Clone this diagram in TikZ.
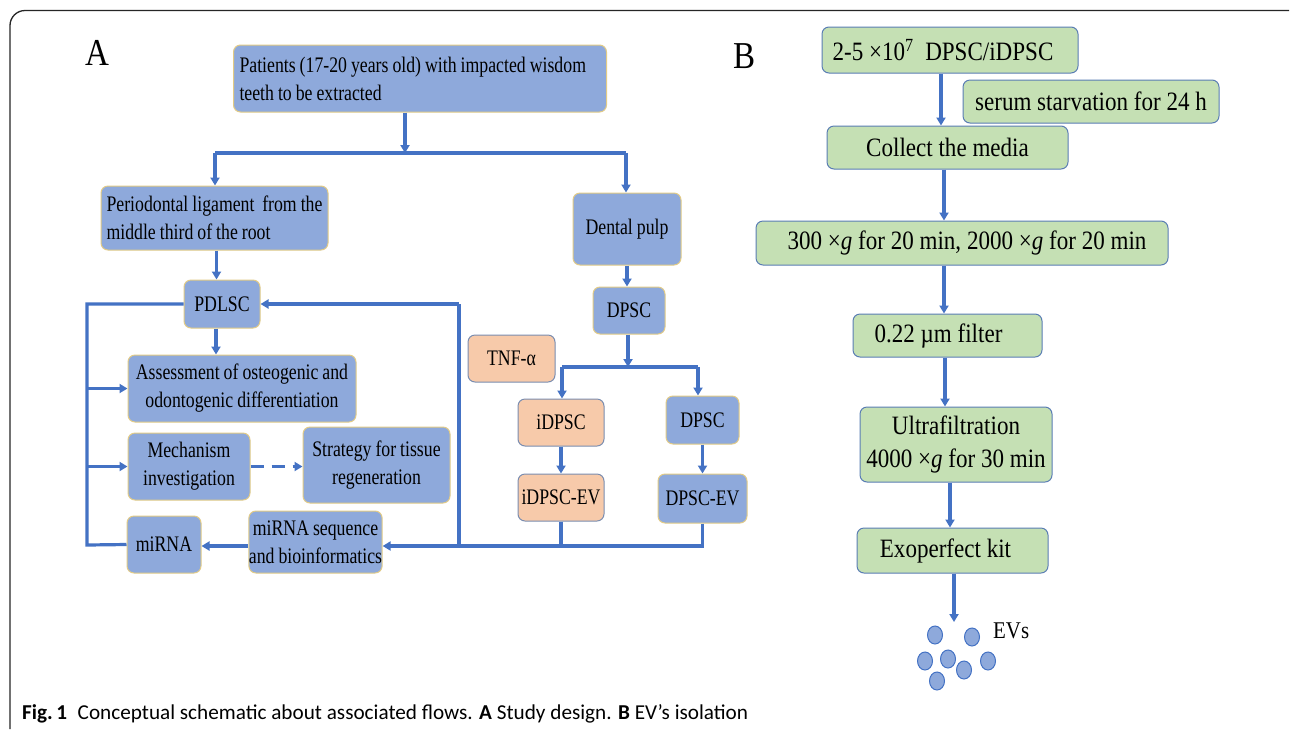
\documentclass[tikz,border=0pt]{standalone}
\usepackage{fontspec}
\usetikzlibrary{arrows.meta,shapes.geometric}
\newfontfamily\tnrA[FakeStretch=0.8,WordSpace=0.9]{Liberation Serif}
\newfontfamily\tnrB[FakeStretch=0.87]{Liberation Serif}
\newfontfamily\capfont{Carlito}
\newcommand\fa{\tnrA\fontsize{22.2}{28}\selectfont}
\newcommand\fb{\tnrB\fontsize{26.5}{33}\selectfont}
\newcommand\fev{\tnrB\fontsize{24}{26}\selectfont}
\newcommand\flab{\tnrB\fontsize{38}{40}\selectfont}
\definecolor{bfill}{HTML}{8EA9DB}
\definecolor{bedge}{HTML}{E2CB86}
\definecolor{ofill}{HTML}{F7CAAA}
\definecolor{oedge}{HTML}{7A8DB0}
\definecolor{gfill}{HTML}{C5E0B4}
\definecolor{gedge}{HTML}{5A7DB4}
\definecolor{acol}{HTML}{4472C4}
\tikzset{
  box/.style={rounded corners=7pt, line width=1pt, inner sep=0pt, align=center, font=\fa},
  bluebox/.style={box, fill=bfill, draw=bedge},
  orbox/.style={box, fill=ofill, draw=oedge},
  grbox/.style={box, fill=gfill, draw=gedge, font=\fb},
  arr/.style={draw=acol, line width=3.2pt, -{Triangle[length=8pt,width=9pt]}},
  ln/.style={draw=acol, line width=3.2pt},
  dashedarr/.style={arr, dash pattern=on 13pt off 8pt},
  evc/.style={ellipse, minimum width=15pt, minimum height=18pt, inner sep=0pt, fill=bfill, draw=acol, line width=1pt},
}
\begin{document}
\begin{tikzpicture}[x=1pt,y=-1pt]
\fill[white] (0,0) rectangle (1290,732);
\useasboundingbox (0,0) rectangle (1290,732);
% frame
\draw[line width=1.3pt, black!85, rounded corners=15pt] (10,729) -- (10,10.5) -- (1289,10.5);

% labels
\node[font=\flab, anchor=base] (labA) at (97,65) {A};
\node[font=\flab, anchor=base] (labB) at (745,68) {B};

% ---------- Panel A ----------
\node[bluebox, minimum width=373pt, minimum height=67pt, text width=361pt, align=flush left] (pat) at (420,78.5)
  {Patients (17-20 years old) with impacted wisdom\\teeth to be extracted};
\node[bluebox, minimum width=227pt, minimum height=64pt, align=left] (per) at (214.5,218)
  {Periodontal ligament\, from the\\middle third of the root};
\node[bluebox, minimum width=108pt, minimum height=72pt] (dent) at (627,229) {Dental pulp};
\node[bluebox, minimum width=76pt, minimum height=48pt] (pdl) at (222,304) {PDLSC};
\node[bluebox, minimum width=228pt, minimum height=67pt] (ass) at (242,388.5)
  {Assessment of osteogenic and\\odontogenic differentiation};
\node[bluebox, minimum width=122pt, minimum height=67pt] (mech) at (189,466.5) {Mechanism\\investigation};
\node[bluebox, minimum width=147pt, minimum height=76pt] (strat) at (376.5,465) {Strategy for tissue\\regeneration};
\node[bluebox, minimum width=74pt, minimum height=57pt] (mir) at (164,544.5) {miRNA};
\node[bluebox, minimum width=129pt, minimum height=62pt] (seq) at (315.5,542) {miRNA sequence\\and bioinformatics};
\node[bluebox, minimum width=72pt, minimum height=47pt] (dpsc) at (629,310.5) {DPSC};
\node[orbox, minimum width=87pt, minimum height=47pt] (tnf) at (511.5,358.5) {TNF-α};
\node[orbox, minimum width=86pt, minimum height=47pt] (idp) at (561,422.5) {iDPSC};
\node[bluebox, minimum width=73pt, minimum height=48pt] (dp2) at (702.5,420) {DPSC};
\node[orbox, minimum width=86pt, minimum height=47pt] (idpev) at (561,497.5) {iDPSC-EV};
\node[bluebox, minimum width=89pt, minimum height=49pt] (dpev) at (702.5,498.5) {DPSC-EV};

% junctions
\coordinate (j1) at (405,153);
\coordinate (j1L) at (215,153);
\coordinate (j1R) at (626,153);
\coordinate (L1) at (87,304);
\coordinate (L2) at (87,545);
\coordinate (R1) at (459,304);
\coordinate (R2) at (459,546);
\coordinate (j2) at (628,367);
\coordinate (j2L) at (562,367);
\coordinate (j2R) at (698,367);

\draw[arr] (pat.south -| j1) -- (j1);
\draw[ln] (j1L) -- (j1R);
\draw[arr] (j1L) -- (j1L |- per.north);
\draw[arr] (j1R) -- (j1R |- dent.north);
\draw[arr] ([xshift=2pt]per.south) -- ([xshift=2pt]per.south |- pdl.north);
\draw[arr] ([xshift=-6pt]pdl.south) -- ([xshift=-6pt]pdl.south |- ass.north);
\draw[ln, line join=miter] (pdl.west) -- (L1) -- (L2) -- (mir.west);
\draw[arr] (L1 |- ass.west) -- (ass.west);
\draw[arr] (L1 |- mech.west) -- (mech.west);
\draw[dashedarr] (mech.east) -- (strat.west |- mech.east);
\draw[arr] (R1) -- (pdl.east);
\draw[ln] (R1) -- (R2);
\draw[arr] (seq.west |- R2) -- (mir.east |- R2);
\draw[ln] (idpev.south) -- (idpev.south |- R2);
\draw[arr] (dpev.south) -- (dpev.south |- R2) -- (seq.east |- R2);
\draw[arr] (dent.south) -- (dent.south |- dpsc.north);
\draw[arr] (dpsc.south -| j2) -- (j2);
\draw[ln] (j2L) -- (j2R);
\draw[arr] (j2L) -- (j2L |- idp.north);
\draw[arr] (j2R) -- (j2R |- dp2.north);
\draw[arr] (idp.south) -- (idpev.north);
\draw[arr] (dp2.south) -- (dp2.south |- dpev.north);

% ---------- Panel B ----------
\node[grbox, minimum width=256pt, minimum height=46pt, align=left] (b1) at (950,50)
  {2-5 ×10\textsuperscript{7}\ \ DPSC/iDPSC\hspace{14pt}};
\node[grbox, minimum width=256pt, minimum height=43pt] (serum) at (1091,101.5)
  {serum starvation for 24 h};
\node[grbox, minimum width=241pt, minimum height=43pt] (coll) at (947.5,147.5) {Collect the media};
\node[grbox, minimum width=412pt, minimum height=44pt] (cent) at (962,243)
  {\hspace{10pt}300 ×\textit{g} for 20 min, 2000 ×\textit{g} for 20 min};
\node[grbox, minimum width=189pt, minimum height=43pt] (filt) at (947.5,335.5) {0.22 µm filter\hspace{18pt}};
\node[grbox, minimum width=192pt, minimum height=75pt] (ultra) at (956,444.5) {Ultrafiltration\\4000 ×\textit{g} for 30 min};
\node[grbox, minimum width=191pt, minimum height=45pt] (exo) at (952.5,550.5) {Exoperfect kit\hspace{14pt}};
\coordinate (evtip) at (954,622);

\draw[arr] ([xshift=-9pt]b1.south) -- ([xshift=-9pt]b1.south |- coll.north);
\draw[arr] ([xshift=-3.5pt]coll.south) -- ([xshift=-3.5pt]coll.south |- cent.north);
\draw[arr] ([xshift=-3.5pt]filt.north |- cent.south) -- ([xshift=-3.5pt]filt.north);
\draw[arr] ([xshift=-2.5pt]filt.south) -- ([xshift=-2.5pt]filt.south |- ultra.north);
\draw[arr] ([xshift=-2.5pt]exo.north |- ultra.south) -- ([xshift=-2.5pt]exo.north);
\draw[arr] (exo.south -| evtip) -- (evtip);

% EVs
\node[evc] (e1) at (935,635) {};
\node[evc] (e2) at (972,637) {};
\node[evc] (e3) at (925,661) {};
\node[evc] (e4) at (948,659) {};
\node[evc] (e5) at (964,670) {};
\node[evc] (e6) at (988,661) {};
\node[evc] (e7) at (937,681) {};
\node[font=\fev, anchor=west, inner sep=0pt] (evl) at (993,631) {EVs};

% caption
\node[font=\capfont\fontsize{21.2}{22}\selectfont, anchor=base west, inner sep=0pt] (cap) at (22,719)
  {\textbf{Fig.\,1}\hspace{0.5em}Conceptual schematic about associated flows. \textbf{A} Study design. \textbf{B} EV’s isolation};
\end{tikzpicture}
\end{document}
